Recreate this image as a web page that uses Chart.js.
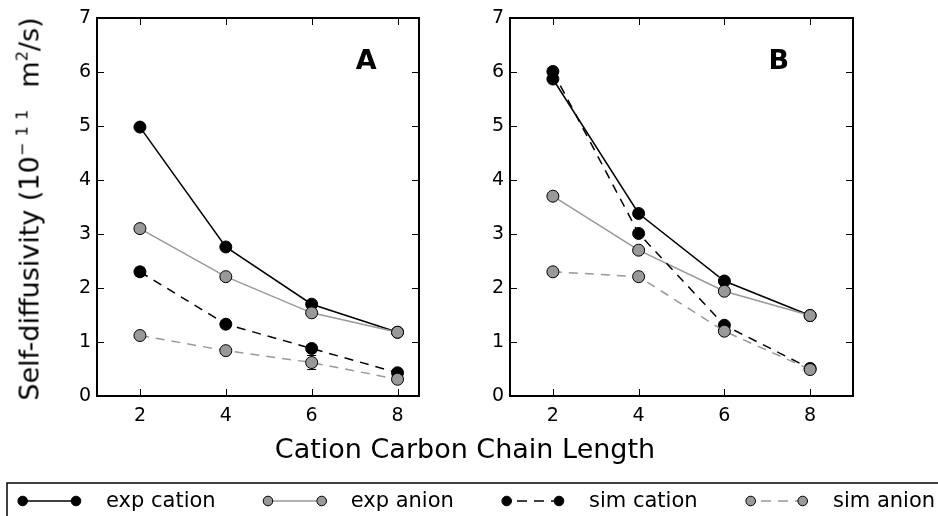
<!DOCTYPE html>
<html>
<head>
<meta charset="utf-8">
<script src="https://cdn.jsdelivr.net/npm/chart.js@4.4.1/dist/chart.umd.min.js"></script>
<style>
  html, body { margin: 0; padding: 0; background: #fff; width: 938px; height: 516px; overflow: hidden;
               font-family: "DejaVu Sans", sans-serif; color: #000; }
  canvas { position: absolute; top: 0; }
  #panelA { left: 0; }
  #panelB { left: 440px; }
  #ylabel { position: absolute; left: 31px; top: 209px; font-size: 27px; line-height: 27px; white-space: nowrap;
            transform: translate(-50%, -50%) rotate(-90deg); }
  #ylabel .sup { font-size: 16px; position: relative; top: -11px; }
  #xlabel { position: absolute; left: 465px; top: 435px; font-size: 27px; line-height: 27px; white-space: nowrap;
            transform: translateX(-50%); }
  #legend { position: absolute; left: 0; top: 0; }
</style>
</head>
<body>
<canvas id="panelA" width="440" height="440"></canvas>
<canvas id="panelB" width="440" height="440"></canvas>
<div id="ylabel">Self-diffusivity (10<span class="sup">−&#8201;&#8201;1&#8201;&#8201;1</span>&#8194; m<span class="sup">2</span>/s)</div>
<div id="xlabel">Cation Carbon Chain Length</div>
<svg id="legend" width="938" height="516" xmlns="http://www.w3.org/2000/svg">
  <rect x="7" y="483" width="960" height="60" fill="none" stroke="#000" stroke-width="1.5"/>
  <g font-family="DejaVu Sans" font-size="21" fill="#000">
    <line x1="22.7" y1="501" x2="76" y2="501" stroke="#000" stroke-width="1.5"/>
    <circle cx="22.7" cy="501" r="4.8" fill="#000" stroke="#000"/>
    <circle cx="76" cy="501" r="4.8" fill="#000" stroke="#000"/>
    <text x="106" y="507">exp cation</text>

    <line x1="268" y1="501" x2="321.7" y2="501" stroke="#999" stroke-width="1.5"/>
    <circle cx="268" cy="501" r="4.8" fill="#999" stroke="#000"/>
    <circle cx="321.7" cy="501" r="4.8" fill="#999" stroke="#000"/>
    <text x="350.7" y="507">exp anion</text>

    <line x1="506.7" y1="501" x2="559" y2="501" stroke="#000" stroke-width="1.5" stroke-dasharray="10,7" stroke-dashoffset="6.7"/>
    <circle cx="506.7" cy="501" r="4.8" fill="#000" stroke="#000"/>
    <circle cx="559" cy="501" r="4.8" fill="#000" stroke="#000"/>
    <text x="589" y="507">sim cation</text>

    <line x1="750.7" y1="501" x2="802.7" y2="501" stroke="#999" stroke-width="1.5" stroke-dasharray="10,7" stroke-dashoffset="6.7"/>
    <circle cx="750.7" cy="501" r="4.8" fill="#999" stroke="#000"/>
    <circle cx="802.7" cy="501" r="4.8" fill="#999" stroke="#000"/>
    <text x="833" y="507">sim anion</text>
  </g>
</svg>
<script>
// Cation alkyl chain length (number of carbons)
const chainLengths = [2, 4, 6, 8];
const xTickValues = [2, 4, 6, 8];
const yTickValues = [0, 1, 2, 3, 4, 5, 6, 7];

// Panel A self-diffusivities (1e-11 m^2/s)
const expCationA = [4.98, 2.76, 1.70, 1.18];
const expAnionA  = [3.10, 2.21, 1.54, 1.18];
const simCationA = [2.30, 1.33, 0.88, 0.43];
const simAnionA  = [1.12, 0.84, 0.62, 0.31];
const simCationErrA = [0.08, 0.07, 0.06, 0.03];
const simAnionErrA  = [0.04, 0.03, 0.13, 0.03];

// Panel B self-diffusivities (1e-11 m^2/s)
const expCationB = [5.87, 3.38, 2.13, 1.49];
const expAnionB  = [3.70, 2.70, 1.94, 1.49];
const simCationB = [6.01, 3.01, 1.31, 0.51];
const simAnionB  = [2.30, 2.21, 1.20, 0.49];

const FONT = '"DejaVu Sans", sans-serif';
const GREY = '#999999';

const toPoints = vals => chainLengths.map((x, i) => ({ x, y: vals[i] }));

function series(vals, color, dashed, order) {
  return {
    data: toPoints(vals),
    borderColor: color,
    backgroundColor: color,
    pointBackgroundColor: color,
    pointBorderColor: '#000',
    pointBorderWidth: 1,
    pointRadius: 6,
    borderWidth: 1.5,
    borderDash: dashed ? [9, 7] : [],
    tension: 0,
    fill: false,
    order
  };
}

// Vertical error bars with caps, drawn underneath the markers
const errorBars = {
  id: 'errorBars',
  beforeDatasetsDraw(chart, args, opts) {
    const { ctx, scales: { x, y } } = chart;
    ctx.save();
    ctx.strokeStyle = '#000';
    ctx.lineWidth = 1;
    (opts.sets || []).forEach(({ values, errors }) => {
      values.forEach((v, i) => {
        const e = errors[i];
        if (!e) return;
        const px = x.getPixelForValue(chainLengths[i]);
        const lo = y.getPixelForValue(v - e);
        const hi = y.getPixelForValue(v + e);
        ctx.beginPath();
        ctx.moveTo(px, lo); ctx.lineTo(px, hi);
        ctx.moveTo(px - 4.5, lo); ctx.lineTo(px + 4.5, lo);
        ctx.moveTo(px - 4.5, hi); ctx.lineTo(px + 4.5, hi);
        ctx.stroke();
      });
    });
    ctx.restore();
  }
};

// Box frame with inward ticks on all four sides plus the panel letter
const frame = {
  id: 'frame',
  afterDraw(chart, args, opts) {
    const { ctx, chartArea: { left, top, right, bottom }, scales: { x, y } } = chart;
    ctx.save();
    ctx.strokeStyle = '#000';
    ctx.lineWidth = 1;
    ctx.beginPath();
    xTickValues.forEach(v => {
      const px = Math.round(x.getPixelForValue(v)) + 0.5;
      ctx.moveTo(px, bottom); ctx.lineTo(px, bottom - 7);
      ctx.moveTo(px, top); ctx.lineTo(px, top + 7);
    });
    yTickValues.forEach(v => {
      const py = Math.round(y.getPixelForValue(v)) + 0.5;
      ctx.moveTo(left, py); ctx.lineTo(left + 7, py);
      ctx.moveTo(right, py); ctx.lineTo(right - 7, py);
    });
    ctx.stroke();
    ctx.lineWidth = 2;
    ctx.strokeRect(left, top, right - left, bottom - top);
    ctx.fillStyle = '#000';
    ctx.font = 'bold 27px ' + FONT;
    ctx.textAlign = 'center';
    ctx.textBaseline = 'middle';
    ctx.fillText(opts.letter, x.getPixelForValue(opts.lx), y.getPixelForValue(opts.ly));
    ctx.restore();
  }
};

function makePanel(id, data, errSets, xMax, yWidth, rightPad, letter) {
  new Chart(document.getElementById(id), {
    type: 'line',
    data: {
      datasets: [
        series(data[0], '#000', false, 3),
        series(data[1], GREY, false, 2),
        series(data[2], '#000', true, 1),
        series(data[3], GREY, true, 0)
      ]
    },
    options: {
      responsive: false,
      animation: false,
      events: [],
      layout: { padding: { top: 18, right: rightPad, left: 0, bottom: 0 } },
      plugins: {
        legend: { display: false },
        tooltip: { enabled: false },
        errorBars: { sets: errSets },
        frame: { letter, lx: 7.27, ly: 6.18 }
      },
      scales: {
        x: {
          type: 'linear', min: 1, max: xMax,
          grid: { display: false, drawTicks: false },
          border: { display: false },
          afterBuildTicks: s => { s.ticks = xTickValues.map(value => ({ value })); },
          afterFit: s => { s.height = 44; },
          ticks: { color: '#000', font: { family: FONT, size: 19 }, padding: 9, maxRotation: 0, autoSkip: false }
        },
        y: {
          type: 'linear', min: 0, max: 7,
          grid: { display: false, drawTicks: false },
          border: { display: false },
          afterBuildTicks: s => { s.ticks = yTickValues.map(value => ({ value })); },
          afterFit: s => { s.width = yWidth; },
          ticks: { color: '#000', font: { family: FONT, size: 19 }, padding: 6, autoSkip: false }
        }
      }
    },
    plugins: [errorBars, frame]
  });
}

makePanel('panelA', [expCationA, expAnionA, simCationA, simAnionA],
  [{ values: simCationA, errors: simCationErrA }, { values: simAnionA, errors: simAnionErrA }],
  8.5, 97, 21, 'A');
makePanel('panelB', [expCationB, expAnionB, simCationB, simAnionB], [], 9, 70, 27, 'B');
</script>
</body>
</html>
